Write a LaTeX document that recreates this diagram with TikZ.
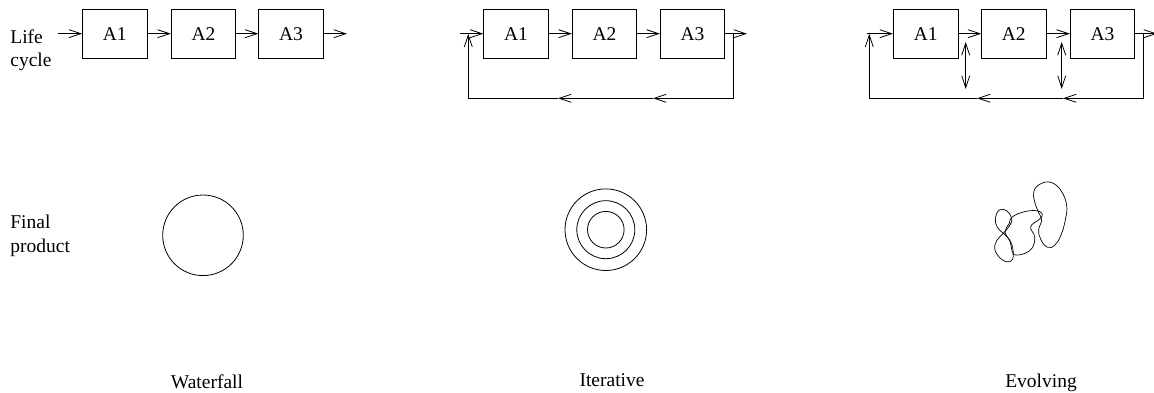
\documentclass[tikz,border=0pt]{standalone}
\usepackage{fontspec}
\setmainfont{Liberation Serif}
\usetikzlibrary{arrows.meta}

\begin{document}
\begin{tikzpicture}[
  x=1pt, y=-1pt,
  font=\fontsize{19.5}{23.5}\selectfont,
  line width=0.8pt,
  act/.style={draw, minimum width=64.5pt, minimum height=48.5pt, inner sep=0pt},
  ar/.style={-{Straight Barb[length=12pt,width=8pt]}},
  dar/.style={{Straight Barb[length=12pt,width=8pt]}-{Straight Barb[length=12pt,width=8pt]}},
  lbl/.style={align=left, anchor=north west, inner sep=0pt},
  modelname/.style={anchor=base, inner sep=0pt},
  ring/.style={draw, circle, inner sep=0pt},
]
\useasboundingbox (0,0) rectangle (1154,393);

\node[lbl] (lc) at (10,29)  {Life\\cycle};
\node[lbl] (fp) at (10,215) {Final\\product};

% waterfall
\node[act] (w1) at (114.8,33.7) {A1};
\node[act] (w2) at (203.5,33.7) {A2};
\node[act] (w3) at (291,33.7)   {A3};
\coordinate (win)  at (58,33.7);
\coordinate (wout) at (347,33.7);
\draw[ar] (win) -- (w1);
\draw[ar] (w1) -- (w2);
\draw[ar] (w2) -- (w3);
\draw[ar] (w3) -- (wout);

\node[ring, minimum size=80.6pt] (wfp) at (203,235.3) {};
\node[modelname] (wname) at (207,388) {Waterfall};

% iterative
\node[act] (i1) at (516,33.7)   {A1};
\node[act] (i2) at (604.5,33.7) {A2};
\node[act] (i3) at (692.5,33.7) {A3};
\coordinate (iin)  at (460,33.7);
\coordinate (iout) at (747,33.7);
\coordinate (ir)   at (733,33.7);
\coordinate (irb)  at (733,98.3);
\coordinate (im2)  at (653,98.3);
\coordinate (im1)  at (558,98.3);
\coordinate (ilb)  at (468.3,98.3);
\coordinate (il)   at (468.3,33.7);
\draw[ar] (iin) -- (i1);
\draw[ar] (i1) -- (i2);
\draw[ar] (i2) -- (i3);
\draw[ar] (i3) -- (iout);
\draw[ar] (ir) -- (irb) -- (im2);
\draw[ar] (im2) -- (im1);
\draw[ar] (im1) -- (ilb) -- (il);

\node[ring, minimum size=81.6pt] (ifp3) at (605.8,229.7) {};
\node[ring, minimum size=58pt]   (ifp2) at (605.8,229.7) {};
\node[ring, minimum size=36.6pt] (ifp1) at (605.8,229.7) {};
\node[modelname] (iname) at (612,386.7) {Iterative};

% evolving
\node[act] (e1) at (925.7,33.7)  {A1};
\node[act] (e2) at (1013.8,33.7) {A2};
\node[act] (e3) at (1102.5,33.7) {A3};
\coordinate (ein)  at (866.7,33.7);
\coordinate (eout) at (1157,33.7);
\coordinate (er)   at (1143,33.7);
\coordinate (erb)  at (1143,98.3);
\coordinate (em2)  at (1063,98.3);
\coordinate (em1)  at (977,98.3);
\coordinate (elb)  at (869.3,98.3);
\coordinate (el)   at (869.3,33.7);
\coordinate (ea1)  at (965.7,42);
\coordinate (eb1)  at (965.7,89);
\coordinate (ea2)  at (1061.7,42);
\coordinate (eb2)  at (1061.7,89);
\draw[ar] (ein) -- (e1);
\draw[ar] (e1) -- (e2);
\draw[ar] (e2) -- (e3);
\draw[ar] (e3) -- (eout);
\draw[ar] (er) -- (erb) -- (em2);
\draw[ar] (em2) -- (em1);
\draw[ar] (em1) -- (elb) -- (el);
\draw[dar] (ea1) -- (eb1);
\draw[dar] (ea2) -- (eb2);

\begin{scope}[shift={(960,170)}, x=0.3333pt, y=-0.3333pt, line width=0.7pt]
  \draw plot[smooth cycle, tension=0.7] coordinates {
    (236,128) (224,95) (222,62) (245,40) (275,38) (303,62) (320,105)
    (316,150) (303,195) (285,225) (263,232) (243,210) (236,180) (245,150)};
  \draw plot[smooth cycle, tension=0.7] coordinates {
    (155,142) (190,126) (228,122) (247,132) (238,148) (212,170) (224,200)
    (218,232) (195,250) (170,255) (158,248) (150,215) (135,185) (148,160)};
  \draw plot[smooth cycle, tension=0.7] coordinates {
    (130,190) (150,165) (155,145) (140,122) (118,120) (106,145) (112,172)
    (130,190) (152,215) (160,255) (150,275) (125,268) (105,240) (110,212)};
\end{scope}
\node[modelname] (ename) at (1041,387) {Evolving};

\end{tikzpicture}
\end{document}
